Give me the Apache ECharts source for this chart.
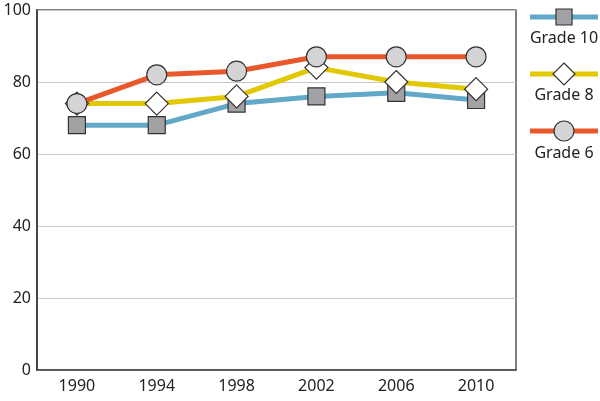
<!DOCTYPE html>
<html><head><meta charset="utf-8">
<script src="https://cdn.jsdelivr.net/npm/echarts@6/dist/echarts.min.js"></script>
<style>html,body{margin:0;padding:0;background:#fff}#c{width:600px;height:401px}</style>
</head><body><div id="c"></div>
<script>
const years = ['1990','1994','1998','2002','2006','2010'];
const grade10 = [68, 68, 74, 76, 77, 75];
const grade8 = [74, 74, 76, 84, 80, 78];
const grade6 = [74, 82, 83, 87, 87, 87];
const seriesNames = ['Grade 10','Grade 8','Grade 6'];
const yTicks = [0, 20, 40, 60, 80, 100];

const font = 'Noto Sans';
const colors = ['#62a8c8','#e2c800','#e8582a'];
const fills = ['#a2a2a4','#ffffff','#d4d4d6'];
const chart = echarts.init(document.getElementById('c'), null, {renderer:'canvas'});
const mk = (i, data, symbol, size) => ({
  name: seriesNames[i], type:'line', data, symbol, symbolSize:size,
  lineStyle:{color:colors[i], width:5},
  itemStyle:{color:fills[i], borderColor:'#333', borderWidth:1.2},
  emphasis:{disabled:true}, animation:false
});
// legend drawn as graphic: line + marker + label below
const lg = [];
seriesNames.forEach((n,i)=>{
  const cy = 17 + 57*i, cx = 564;
  lg.push({type:'line',shape:{x1:530,y1:cy,x2:598,y2:cy},style:{stroke:colors[i],lineWidth:5}});
  const st = {fill:fills[i],stroke:'#333',lineWidth:1.2};
  if(i===0) lg.push({type:'rect',shape:{x:cx-8,y:cy-8,width:16,height:16},style:st});
  if(i===1) lg.push({type:'polygon',shape:{points:[[cx,cy-11],[cx+11,cy],[cx,cy+11],[cx-11,cy]]},style:st});
  if(i===2) lg.push({type:'circle',shape:{cx,cy,r:10},style:st});
  lg.push({type:'text',x:cx,y:38+57.5*i,
    style:{text:n,fill:'#222',font:'16px "Noto Sans"',align:'center',verticalAlign:'middle'}});
});
chart.setOption({
  animation:false,
  grid:{left:37,right:84,top:10,bottom:31,show:true,borderColor:'#555',borderWidth:1.5},
  xAxis:{type:'category',data:years,boundaryGap:true,
    axisLine:{lineStyle:{color:'#444',width:1.5}},axisTick:{show:false},
    axisLabel:{color:'#222',fontFamily:font,fontSize:16,margin:8}},
  yAxis:{type:'value',min:yTicks[0],max:yTicks[yTicks.length-1],interval:20,
    axisLine:{show:true,lineStyle:{color:'#333',width:1.5}},axisTick:{show:false},
    splitLine:{lineStyle:{color:'#c8c8c8',width:1}},
    axisLabel:{color:'#222',fontFamily:font,fontSize:16,margin:6}},
  graphic:lg,
  series:[
    mk(0, grade10, 'rect', 17),
    mk(1, grade8, 'diamond', 23),
    mk(2, grade6, 'circle', 20)
  ]
});
</script></body></html>
